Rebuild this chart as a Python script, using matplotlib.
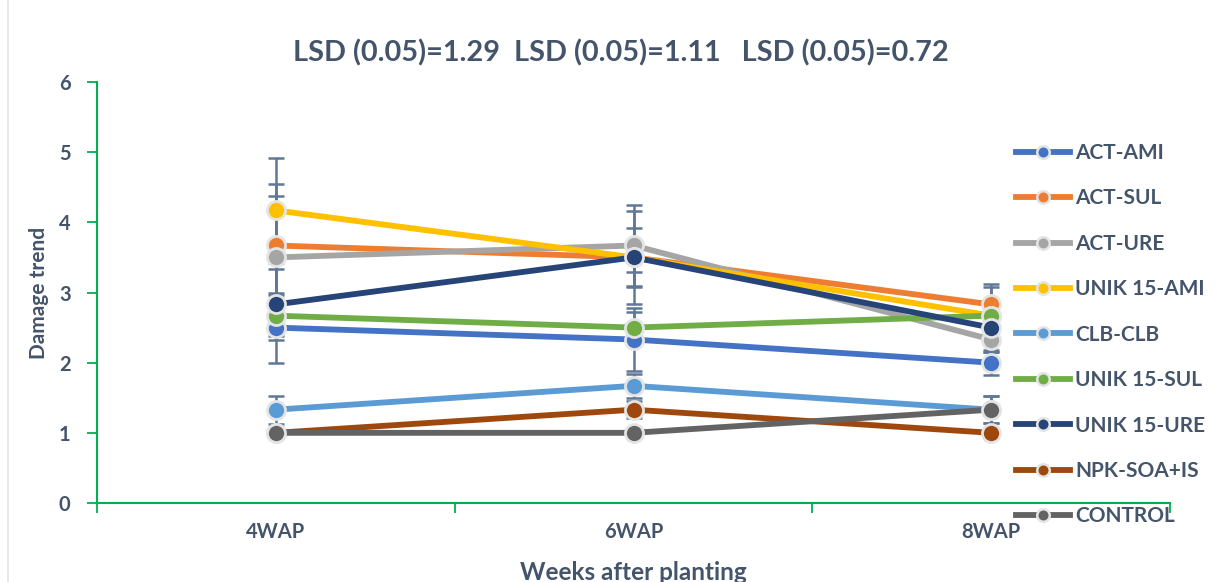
import matplotlib
matplotlib.use("Agg")
import matplotlib.pyplot as plt
from matplotlib.lines import Line2D
import numpy as np

plt.rcParams['font.family'] = ['Lato', 'DejaVu Sans']

categories = ["4WAP", "6WAP", "8WAP"]
series_names = ["ACT-AMI", "ACT-SUL", "ACT-URE", "UNIK 15-AMI", "CLB-CLB",
                "UNIK 15-SUL", "UNIK 15-URE", "NPK-SOA+IS", "CONTROL"]
act_ami = [2.50, 2.33, 2.00]
act_sul = [3.67, 3.50, 2.83]
act_ure = [3.50, 3.67, 2.33]
unik_ami = [4.17, 3.50, 2.67]
clb_clb = [1.33, 1.67, 1.33]
unik_sul = [2.67, 2.50, 2.67]
unik_ure = [2.83, 3.50, 2.50]
npk = [1.00, 1.33, 1.00]
control = [1.00, 1.00, 1.33]

err_act_ami = [0.50, 0.45, 0.18]
err_act_sul = [0.87, 0.66, 0.29]
err_act_ure = [0.87, 0.58, 0.18]
err_unik_ami = [0.75, 0.21, 0.41]
err_clb_clb = [0.20, 0.17, 0.19]
err_unik_sul = [0.29, 0.22, 0.20]
err_unik_ure = [0.50, 0.42, 0.35]
err_npk = [0.00, 0.12, 0.00]
err_control = [0.00, 0.00, 0.19]

values = [act_ami, act_sul, act_ure, unik_ami, clb_clb, unik_sul, unik_ure, npk, control]
errors = [err_act_ami, err_act_sul, err_act_ure, err_unik_ami, err_clb_clb,
          err_unik_sul, err_unik_ure, err_npk, err_control]
colors = ["#4472C4", "#ED7D31", "#A5A5A5", "#FFC000", "#5B9BD5",
          "#70AD47", "#264478", "#9E480E", "#636363"]

title_text = "LSD (0.05)=1.29  LSD (0.05)=1.11   LSD (0.05)=0.72"
txt_color = "#44546A"
green = "#00B050"

fig = plt.figure(figsize=(12.2, 5.82), dpi=100)
ax = fig.add_axes([97/1220, 1-503/582, (1170-97)/1220, (503-82)/582])

x = np.arange(len(categories))
for i, (name, vals, errs, c) in enumerate(zip(series_names, values, errors, colors)):
    ax.errorbar(x, vals, yerr=errs, fmt='none', ecolor="#5F7896", elinewidth=1.8,
                capsize=6, capthick=1.8, zorder=2)
for i, (name, vals, c) in enumerate(zip(series_names, values, colors)):
    ax.plot(x, vals, color=c, lw=4.2, marker='o', markersize=13,
            markerfacecolor=c, markeredgecolor="#E4E4E4", markeredgewidth=2,
            label=name, zorder=3 + i, solid_capstyle='round')

ax.set_xlim(-0.5, 2.5)
ax.set_ylim(0, 6)
ax.set_xticks(x)
ax.set_xticklabels(categories)
ax.set_xticks([-0.5, 0.5, 1.5, 2.5], minor=True)
ax.tick_params(axis='x', which='major', length=0, pad=14)
ax.tick_params(axis='x', which='minor', length=7, color=green, width=1.3, direction='out')
ax.set_yticks(range(7))
ax.tick_params(axis='y', length=7, color=green, width=1.3, direction='out', pad=12)
for lab in ax.get_xticklabels() + ax.get_yticklabels():
    lab.set_fontweight('bold')
    lab.set_color(txt_color)
    lab.set_fontsize(14.5)

for s in ['top', 'right']:
    ax.spines[s].set_visible(False)
for s in ['left', 'bottom']:
    ax.spines[s].set_color(green)
    ax.spines[s].set_linewidth(1.5)

ax.set_ylabel("Damage trend", fontsize=15, fontweight='bold', color=txt_color, labelpad=7)
fig.text(633/1220, 1-572/582, "Weeks after planting", fontsize=17.5, fontweight='bold',
         color=txt_color, ha='center', va='center')
fig.text(621/1220, 1-53/582, title_text, fontsize=20.8, fontweight='bold',
         color=txt_color, ha='center', va='center')

handles = [Line2D([0], [0], color=c, lw=4.2, marker='o', markersize=9,
                  markerfacecolor=c, markeredgecolor="#E4E4E4", markeredgewidth=1.8)
           for c in colors]
leg = fig.legend(handles, series_names, loc='upper left',
                 bbox_to_anchor=(1016/1220, 1-143/582), frameon=False,
                 prop={'weight': 'bold', 'size': 15}, labelspacing=1.22,
                 handlelength=2.6, handletextpad=0.25, borderaxespad=0, borderpad=0)
for t in leg.get_texts():
    t.set_color(txt_color)

fig.add_artist(Line2D([8/1220, 8/1220], [0, 1], color="#E3E6EA", lw=1.2))

fig.savefig("out.png", dpi=100)
